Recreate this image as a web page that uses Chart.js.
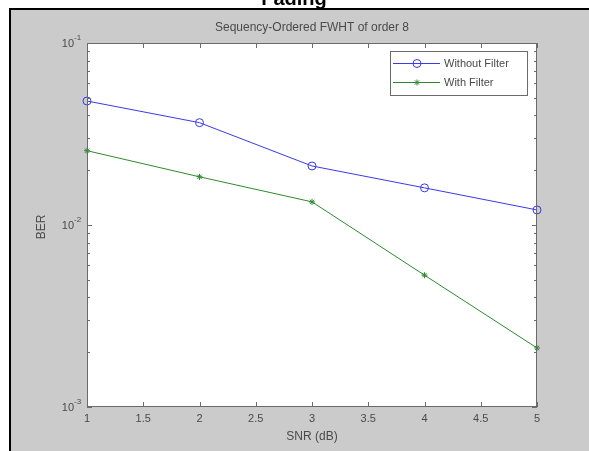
<!DOCTYPE html>
<html>
<head>
<meta charset="utf-8">
<script src="https://cdn.jsdelivr.net/npm/chart.js@4/dist/chart.umd.min.js"></script>
<style>
html,body{margin:0;padding:0;background:#fff;}
#wrap{position:relative;width:589px;height:451px;overflow:hidden;}
canvas{display:block;}
</style>
</head>
<body>
<div id="wrap"><canvas id="c" width="589" height="451"></canvas></div>
<script>
const snr = [1, 2, 3, 4, 5];
const berWithout = [0.048, 0.0365, 0.0211, 0.0160, 0.0121];
const berWith = [0.0256, 0.0184, 0.0134, 0.0053, 0.00211];
const xTicks = [1, 1.5, 2, 2.5, 3, 3.5, 4, 4.5, 5];
const yDecades = [-3, -2, -1];
const seriesNames = ['Without Filter', 'With Filter'];
const figTitle = 'Fading';
const axTitle = 'Sequency-Ordered FWHT of order 8';
const xLabel = 'SNR (dB)';
const yLabel = 'BER';

const BLUE = '#3a3ae6';
const GREEN = '#2f8a2f';
const AX = '#6b6b6b';
const TXT = '#4a4a4a';

const deco = {
  id: 'deco',
  beforeDraw(chart) {
    const ctx = chart.ctx;
    const {left, right, top, bottom} = chart.chartArea;
    ctx.save();
    ctx.fillStyle = '#ffffff';
    ctx.fillRect(0, 0, 589, 451);
    ctx.fillStyle = '#cbcbcb';
    ctx.fillRect(10, 8, 579, 443);
    ctx.fillStyle = '#000';
    ctx.fillRect(9, 8, 580, 2);
    ctx.fillRect(9, 8, 2, 443);
    ctx.fillStyle = '#000';
    ctx.font = 'bold 20px "Liberation Sans", Arial, sans-serif';
    ctx.textAlign = 'center';
    ctx.textBaseline = 'alphabetic';
    ctx.fillText(figTitle, 294, 5);
    ctx.fillStyle = '#ffffff';
    ctx.fillRect(left, top, right - left, bottom - top);
    ctx.restore();
  },
  afterDatasetsDraw(chart) {
    const ctx = chart.ctx;
    const {left, right, top, bottom} = chart.chartArea;
    const xs = chart.scales.x, ys = chart.scales.y;
    ctx.save();
    ctx.strokeStyle = AX;
    ctx.lineWidth = 1;
    ctx.strokeRect(left + 0.5, top + 0.5, right - left - 1, bottom - top - 1);
    ctx.beginPath();
    xTicks.forEach(v => {
      const px = Math.round(xs.getPixelForValue(v)) + 0.5;
      ctx.moveTo(px, bottom); ctx.lineTo(px, bottom - 5);
      ctx.moveTo(px, top); ctx.lineTo(px, top + 5);
    });
    yDecades.forEach(d => {
      for (let m = 1; m <= 9; m++) {
        const v = m * Math.pow(10, d);
        if (v > 0.1 + 1e-12) continue;
        const py = Math.round(ys.getPixelForValue(v)) + 0.5;
        const len = m === 1 ? 5 : 3;
        ctx.moveTo(left, py); ctx.lineTo(left + len, py);
        ctx.moveTo(right, py); ctx.lineTo(right - len, py);
      }
    });
    ctx.stroke();

    ctx.fillStyle = TXT;
    ctx.font = '11px "Liberation Sans", Arial, sans-serif';
    ctx.textAlign = 'center';
    ctx.textBaseline = 'middle';
    xTicks.forEach(v => {
      ctx.fillText(String(v), xs.getPixelForValue(v), bottom + 12);
    });
    yDecades.forEach(d => {
      const py = ys.getPixelForValue(Math.pow(10, d));
      ctx.font = '11px "Liberation Sans", Arial, sans-serif';
      ctx.textAlign = 'right';
      ctx.fillText('10', 74, py + 1);
      ctx.font = '8px "Liberation Sans", Arial, sans-serif';
      ctx.textAlign = 'left';
      ctx.fillText(String(d), 74, py - 5);
    });
    ctx.font = '12px "Liberation Sans", Arial, sans-serif';
    ctx.textAlign = 'center';
    ctx.fillText(axTitle, (left + right) / 2, 28);
    ctx.fillText(xLabel, (left + right) / 2, 437);
    ctx.save();
    ctx.translate(42, 227);
    ctx.rotate(-Math.PI / 2);
    ctx.fillText(yLabel, 0, 0);
    ctx.restore();

    // legend
    const lx = 390, ly = 51, lw = 137, lh = 44;
    ctx.fillStyle = '#fff';
    ctx.fillRect(lx, ly, lw, lh);
    ctx.strokeStyle = AX;
    ctx.strokeRect(lx + 0.5, ly + 0.5, lw, lh);
    const rows = [
      {y: 63, color: BLUE, name: seriesNames[0], style: 'circle'},
      {y: 82, color: GREEN, name: seriesNames[1], style: 'star'}
    ];
    rows.forEach(r => {
      ctx.strokeStyle = r.color;
      ctx.lineWidth = 1;
      ctx.beginPath();
      ctx.moveTo(393, r.y + 0.5); ctx.lineTo(440, r.y + 0.5);
      ctx.stroke();
      if (r.style === 'circle') {
        ctx.beginPath();
        ctx.arc(417, r.y + 0.5, 4, 0, Math.PI * 2);
        ctx.stroke();
      } else {
        ctx.beginPath();
        for (let a = 0; a < 4; a++) {
          const ang = a * Math.PI / 4;
          ctx.moveTo(417 - 3 * Math.cos(ang), r.y + 0.5 - 3 * Math.sin(ang));
          ctx.lineTo(417 + 3 * Math.cos(ang), r.y + 0.5 + 3 * Math.sin(ang));
        }
        ctx.stroke();
      }
      ctx.fillStyle = TXT;
      ctx.font = '11px "Liberation Sans", Arial, sans-serif';
      ctx.textAlign = 'left';
      ctx.textBaseline = 'middle';
      ctx.fillText(r.name, 444, r.y + 1);
    });
    ctx.restore();
  }
};

new Chart(document.getElementById('c'), {
  type: 'line',
  data: {
    datasets: [
      {
        label: seriesNames[0],
        data: snr.map((x, i) => ({x, y: berWithout[i]})),
        borderColor: BLUE,
        backgroundColor: 'rgba(0,0,0,0)',
        borderWidth: 1,
        pointStyle: 'circle',
        pointRadius: 4,
        pointBorderColor: BLUE,
        pointBorderWidth: 1,
        tension: 0
      },
      {
        label: seriesNames[1],
        data: snr.map((x, i) => ({x, y: berWith[i]})),
        borderColor: GREEN,
        backgroundColor: 'rgba(0,0,0,0)',
        borderWidth: 1,
        pointStyle: 'star',
        pointRadius: 3,
        pointBorderColor: GREEN,
        pointBorderWidth: 1,
        tension: 0
      }
    ]
  },
  options: {
    responsive: false,
    animation: false,
    devicePixelRatio: 1,
    clip: false,
    layout: {padding: {left: 87, top: 43, right: 52, bottom: 44}},
    plugins: {legend: {display: false}, title: {display: false}, tooltip: {enabled: false}},
    scales: {
      x: {type: 'linear', min: 1, max: 5, display: false},
      y: {type: 'logarithmic', min: 0.001, max: 0.1, display: false}
    }
  },
  plugins: [deco]
});
</script>
</body>
</html>
